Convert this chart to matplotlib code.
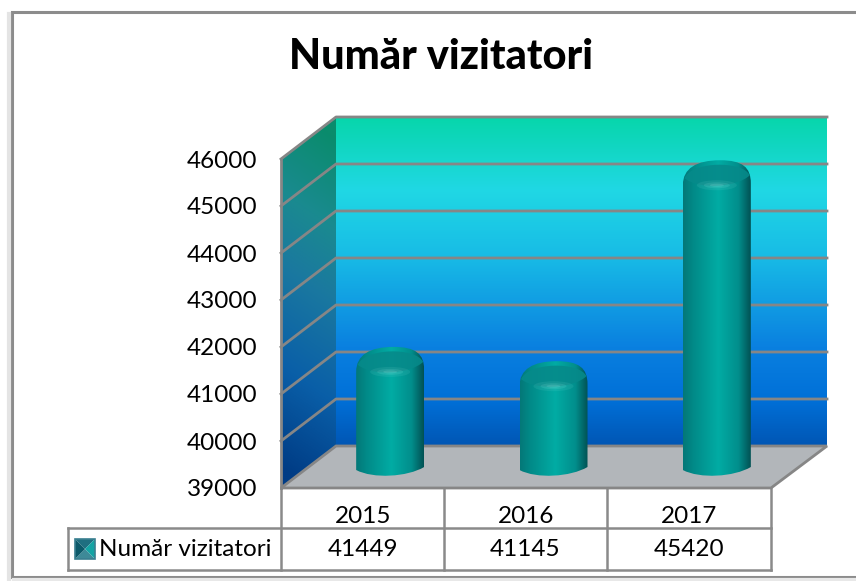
import numpy as np
import matplotlib
matplotlib.use("Agg")
import matplotlib.pyplot as plt
from matplotlib.colors import LinearSegmentedColormap
from matplotlib.patches import Polygon, PathPatch, Rectangle, Ellipse
from matplotlib.path import Path

plt.rcParams['font.family'] = ['Lato', 'DejaVu Sans']

# chart data
title = "Număr vizitatori"
series_name = "Număr vizitatori"
categories = ["2015", "2016", "2017"]
values = [41449, 41145, 45420]
y_ticks = [39000, 40000, 41000, 42000, 43000, 44000, 45000, 46000]

W, H = 856, 581
fig = plt.figure(figsize=(W / 100, H / 100), dpi=100, facecolor="white")

# frame + title live in a pixel axes behind the chart
bg = fig.add_axes([0, 0, 1, 1])
bg.set_xlim(0, W)
bg.set_ylim(H, 0)
bg.axis("off")
bg.add_patch(Rectangle((12, 12), W + 20, 565, fc="white", ec="#8c8c8c", lw=2.2))
bg.plot([14, W], [580, 580], color="#e8e8e8", lw=3)
bg.plot([9, 9], [14, H], color="#e4e4e4", lw=3)
bg.text(441, 57, title, fontsize=30, fontweight="black", ha="center", va="center", color="black")

# front plane of the box is the real axes
ax = fig.add_axes([281 / W, 1 - 488 / H, 490 / W, 329 / H])
ax.set_facecolor("none")
ax.set_xlim(0, len(categories))
ax.set_ylim(y_ticks[0], y_ticks[-1])
for s in ax.spines.values():
    s.set_visible(False)
ax.set_yticks(y_ticks)
ax.set_yticklabels([str(t) for t in y_ticks], fontsize=17.5, color="black")
ax.tick_params(axis="y", length=0, pad=17)
ax.set_xticks([0.5, 1.5, 2.5])
ax.set_xticklabels(categories, fontsize=17.5, color="black")
ax.tick_params(axis="x", length=0, pad=13)

# pixel sizes expressed in data units
ux = 3 / 490
uy = 7000 / 329
dx = 55 * ux
dy = 42 * uy
y0, y1 = y_ticks[0], y_ticks[-1]
back_r = 3 + dx + 1 * ux
GRID = "#868686"

# back wall
back_cmap = LinearSegmentedColormap.from_list("back", [
    (0.0, "#07d6ab"), (0.22, "#20d8e4"), (0.42, "#18bce6"),
    (0.70, "#0a80e0"), (0.86, "#0070d8"), (1.0, "#0056b4")])
grad = np.linspace(0, 1, 256).reshape(-1, 1)
ax.imshow(grad, extent=(dx, back_r, y0 + dy, y1 + dy), cmap=back_cmap, vmin=0, vmax=1,
          aspect="auto", origin="upper", zorder=1, clip_on=False)

# side wall
side_cmap = LinearSegmentedColormap.from_list("side", [
    (0.0, "#0a8c6c"), (0.25, "#1a8a90"), (0.45, "#1a78a0"),
    (0.72, "#0a5fa8"), (1.0, "#003c85")])
yy, xx = np.mgrid[0:1:200j, 0:1:60j]
side_arr = np.clip(yy + 0.10 * (0.5 - xx), 0, 1)
side_im = ax.imshow(side_arr, extent=(0, dx, y0, y1 + dy), cmap=side_cmap, vmin=0, vmax=1,
                    aspect="auto", origin="upper", interpolation="bilinear", zorder=1)
side_im.set_clip_box(fig.bbox)
side_im.set_clip_path(PathPatch(Path([(0, y0), (dx, y0 + dy), (dx, y1 + dy), (0, y1), (0, y0)]),
                                transform=ax.transData))

# floor
floor = [(0, y0), (dx, y0 + dy), (back_r, y0 + dy), (3, y0)]
ax.add_patch(Polygon(floor, closed=True, fc="#b2b6ba", ec=GRID, lw=2, zorder=2, clip_on=False))

# gridlines on both walls
for t in y_ticks[1:]:
    ax.plot([0, dx, back_r], [t, t + dy, t + dy], color=GRID, lw=2, zorder=3, clip_on=False)
ax.plot([0, 0], [y0, y1], color=GRID, lw=2, zorder=3, clip_on=False)

# cylinders
bar_cmap = LinearSegmentedColormap.from_list("bar", [
    (0.0, "#047878"), (0.15, "#018a88"), (0.52, "#01aca4"), (0.82, "#018e8c"), (1.0, "#025254")])
half_w = 34 * ux
for i, v in enumerate(values):
    cx = i + 0.5 + dx / 2
    top = v + dy / 2
    base = y0 + dy / 2
    verts = [
        (cx - half_w, base - 3 * uy),
        (cx - half_w * 0.5, base - 12 * uy), (cx + half_w * 0.5, base - 10 * uy), (cx + half_w, base),
        (cx + half_w, top - 18 * uy),
        (cx + half_w, top - 2 * uy), (cx + half_w * 0.75, top + 5 * uy), (cx + half_w * 0.1, top + 5 * uy),
        (cx - half_w * 0.6, top + 5 * uy), (cx - half_w, top - 3 * uy), (cx - half_w, top - 20 * uy),
        (cx - half_w, base - 3 * uy),
    ]
    codes = [Path.MOVETO, Path.CURVE4, Path.CURVE4, Path.CURVE4, Path.LINETO,
             Path.CURVE4, Path.CURVE4, Path.CURVE4, Path.CURVE4, Path.CURVE4, Path.CURVE4, Path.LINETO]
    body = Path(verts, codes)
    arr = np.linspace(0, 1, 128).reshape(1, -1)
    im = ax.imshow(arr, extent=(cx - half_w, cx + half_w, base - 14 * uy, top + 6 * uy), cmap=bar_cmap,
                   vmin=0, vmax=1, aspect="auto", zorder=4)
    im.set_clip_box(fig.bbox)
    im.set_clip_path(PathPatch(body, transform=ax.transData))
    # top cap, flat teal with a soft glow at its lower edge
    cap_v = [
        (cx - half_w * 0.95, top - 13 * uy),
        (cx - half_w * 0.5, top - 25 * uy), (cx + half_w * 0.6, top - 22 * uy), (cx + half_w * 0.97, top - 10 * uy),
        (cx + half_w * 0.75, top + 5 * uy), (cx - half_w * 0.75, top + 4 * uy), (cx - half_w * 0.95, top - 13 * uy),
    ]
    cap_c = [Path.MOVETO, Path.CURVE4, Path.CURVE4, Path.CURVE4, Path.CURVE4, Path.CURVE4, Path.CURVE4]
    ax.add_patch(PathPatch(Path(cap_v, cap_c), fc="#068a8a", ec="none", alpha=0.9, zorder=5, clip_on=False))
    for w_px, h_px, a in [(40, 10, 0.10), (26, 6, 0.14), (14, 3, 0.18)]:
        ax.add_patch(Ellipse((cx, top - 20 * uy), w_px * ux, h_px * uy, fc="#8fe6e0", ec="none",
                             alpha=a, zorder=6, clip_on=False))

ax.set_xlim(0, len(categories))
ax.set_ylim(y0, y1)

# data table below the plot, drawn on the pixel axes
TBL = "#8a8a8a"
row1, row2, row3 = 488, 528, 570
col_x = [281, 444, 607, 771]
for xc in col_x:
    bg.plot([xc, xc], [row1, row3], color=TBL, lw=1.8)
bg.plot([68, 771], [row2, row2], color=TBL, lw=1.8)
bg.plot([68, 771], [row3, row3], color=TBL, lw=1.8)
bg.plot([68, 68], [row2, row3], color=TBL, lw=1.8)
bg.text(99, 550, series_name, fontsize=17.5, ha="left", va="center", color="black")
for xa, xb, v in zip(col_x[:-1], col_x[1:], values):
    bg.text((xa + xb) / 2, 550, str(v), fontsize=17.5, ha="center", va="center", color="black")

# legend key, a small bevelled square
kx0, kx1, ky0, ky1 = 75, 95, 539, 559
kcx, kcy = (kx0 + kx1) / 2, (ky0 + ky1) / 2
bg.add_patch(Polygon([(kx0, ky0), (kx1, ky0), (kcx, kcy)], fc="#1f6f80", ec="none"))
bg.add_patch(Polygon([(kx0, ky1), (kx1, ky1), (kcx, kcy)], fc="#3e8a98", ec="none"))
bg.add_patch(Polygon([(kx0, ky0), (kx0, ky1), (kcx, kcy)], fc="#0c5a6a", ec="none"))
bg.add_patch(Polygon([(kx1, ky0), (kx1, ky1), (kcx, kcy)], fc="#14a4a4", ec="none"))
bg.add_patch(Rectangle((kx0, ky0), kx1 - kx0, ky1 - ky0, fc="none", ec="#3a7f90", lw=1.2))

fig.savefig("out.png", dpi=100)
